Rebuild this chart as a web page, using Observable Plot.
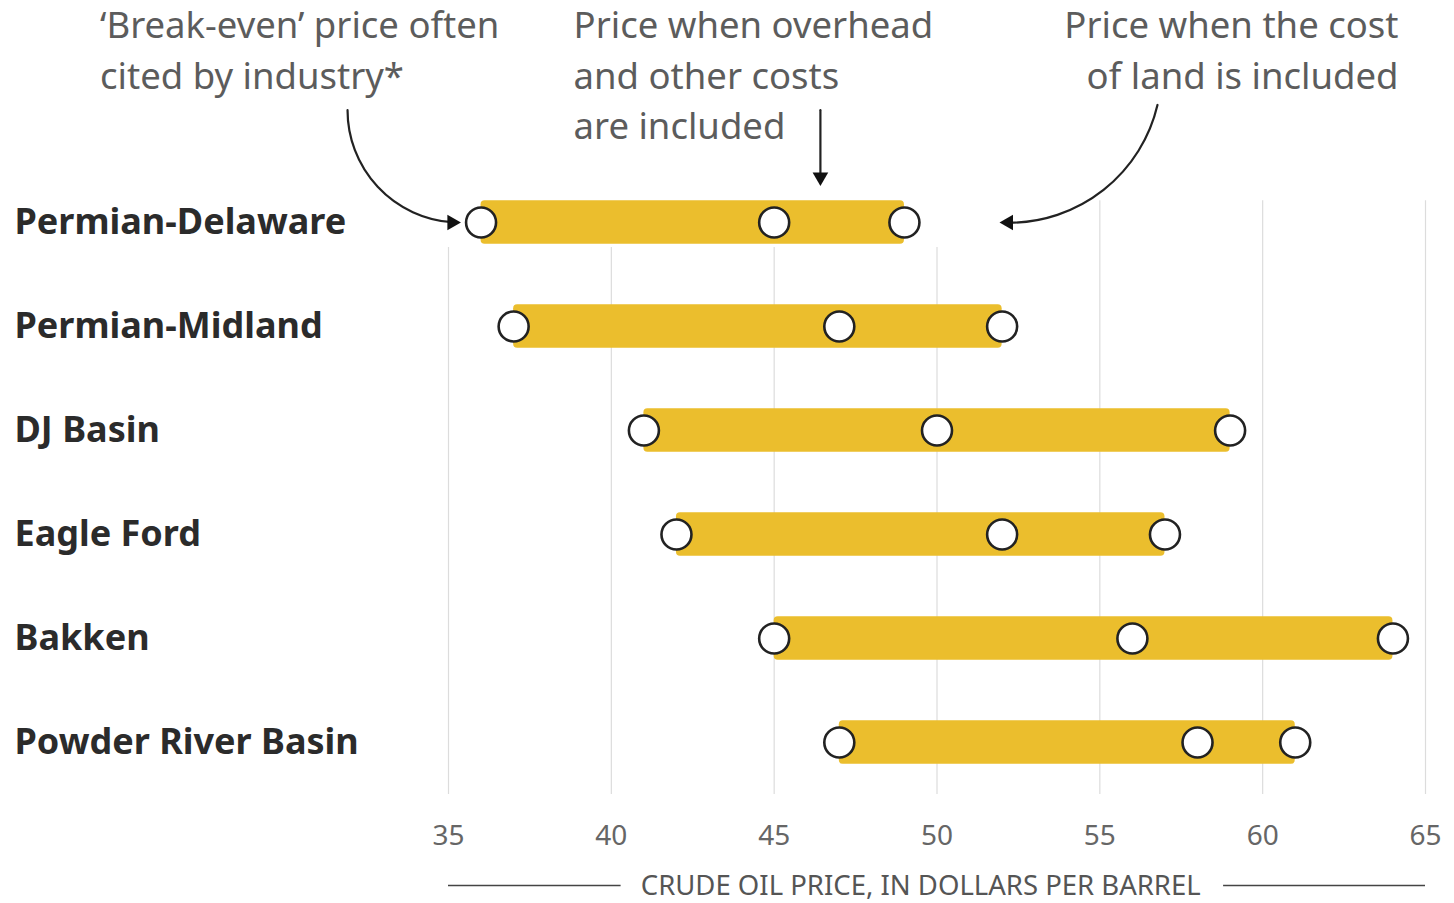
<!DOCTYPE html>
<html>
<head>
<meta charset="utf-8">
<script src="https://cdn.jsdelivr.net/npm/d3@7"></script>
<script src="https://cdn.jsdelivr.net/npm/@observablehq/plot@0.6"></script>
<style>
  html, body { margin: 0; padding: 0; background: #fff; }
  #chart svg { display: block; }
</style>
</head>
<body>
<div id="chart"></div>
<script>
// ---- data ----
const basins = ["Permian-Delaware", "Permian-Midland", "DJ Basin", "Eagle Ford", "Bakken", "Powder River Basin"];
const breakEven = [36, 37, 41, 42, 45, 47];      // 'Break-even' price cited by industry
const withOverhead = [45, 47, 50, 52, 56, 58];   // overhead and other costs included
const withLand = [49, 52, 59, 57, 64, 61];       // cost of land included
const xTicks = [35, 40, 45, 50, 55, 60, 65];
const axisTitle = "CRUDE OIL PRICE, IN DOLLARS PER BARREL";
const noteBreakEven = "‘Break-even’ price often\ncited by industry*";
const noteOverhead = "Price when overhead\nand other costs\nare included";
const noteLand = "Price when the cost\nof land is included";

const rows = basins.map((b, i) => ({basin: b, row: i, low: breakEven[i], mid: withOverhead[i], high: withLand[i]}));
const dots = rows.flatMap(d => [d.low, d.mid, d.high].map(v => ({row: d.row, value: v})));

const FONT = "'Noto Sans', 'Open Sans', sans-serif";
const titleY = 6.385;
const noteY = -2.115;

// annotation arrows (data coordinates) and their filled heads
const arrow1 = {x1: 31.9, y1: -1.08, x2: 35.35, y2: 0};
const arrow2 = {x1: 46.42, y1: -1.08, x2: 46.42, y2: -0.36};
const arrow3 = {x1: 56.77, y1: -1.13, x2: 51.95, y2: 0};
const arrowStyle = {x1: "x1", y1: "y1", x2: "x2", y2: "y2", stroke: "#222", strokeWidth: 2.2, headLength: 0};
const headStyle = {x: "x2", y: "y2", symbol: "triangle", r: 5.8, fill: "#111", stroke: "none"};

const chart = Plot.plot({
  width: 1454,
  height: 903,
  marginLeft: 448,
  marginRight: 29,
  marginTop: 0,
  marginBottom: 109,
  x: {domain: [35, 65], axis: null},
  y: {domain: [-2.1346, 5.5], reverse: true, axis: null},
  style: {fontFamily: FONT, background: "#fff", overflow: "visible"},
  marks: [
    // gridlines
    Plot.ruleX(xTicks, {x: d => d, y1: d => d > 50 ? -0.21 : 0.24, y2: 5.5, stroke: "#dcdcdc", strokeWidth: 1.2}),
    // x tick labels
    Plot.axisX(xTicks, {tickSize: 0, tickPadding: 31, fontSize: 28, fill: "#666", label: null, fontFamily: FONT}),
    // axis title with side lines
    Plot.text([axisTitle], {x: () => 49.5, y: () => titleY, fontSize: 27.5, fill: "#555", textAnchor: "middle", lineAnchor: "middle", fontFamily: FONT}),
    Plot.ruleY([[35, 40.3], [58.8, 65]], {x1: d => d[0], x2: d => d[1], y: () => titleY - 0.01, stroke: "#444", strokeWidth: 1.5}),
    // y labels
    Plot.axisY(d3.range(basins.length), {tickFormat: i => basins[i], tickSize: 0, tickPadding: 434, textAnchor: "start", fontSize: 36, fontWeight: "bold", fill: "#2b2b2b", fontFamily: FONT}),
    // bars
    Plot.rect(rows, {x1: "low", x2: "high", y1: d => d.row - 0.21, y2: d => d.row + 0.21, fill: "#EBBE2D", rx: 4}),
    // dots
    Plot.dot(dots, {x: "value", y: "row", r: 15, fill: "#fff", stroke: "#222", strokeWidth: 2.6}),
    // annotation texts
    Plot.text([noteBreakEven], {x: () => 24.3, y: () => noteY, textAnchor: "start", lineAnchor: "top", lineHeight: 1.38, fontSize: 36.5, fill: "#5c5c5c", fontFamily: FONT}),
    Plot.text([noteOverhead], {x: () => 38.84, y: () => noteY, textAnchor: "start", lineAnchor: "top", lineHeight: 1.38, fontSize: 36.5, fill: "#5c5c5c", fontFamily: FONT}),
    Plot.text([noteLand], {x: () => 64.17, y: () => noteY, textAnchor: "end", lineAnchor: "top", lineHeight: 1.38, fontSize: 36.5, fill: "#5c5c5c", fontFamily: FONT}),
    // annotation arrows
    Plot.arrow([arrow1], {...arrowStyle, bend: -45, insetEnd: 8}),
    Plot.dot([arrow1], {...headStyle, rotate: 90, dx: -8}),
    Plot.arrow([arrow2], {...arrowStyle, bend: 0, insetEnd: 8}),
    Plot.dot([arrow2], {...headStyle, rotate: 180, dy: -8}),
    Plot.arrow([arrow3], {...arrowStyle, bend: 40, insetEnd: 8}),
    Plot.dot([arrow3], {...headStyle, rotate: -90, dx: 8})
  ]
});

document.getElementById("chart").appendChild(chart);
</script>
</body>
</html>
